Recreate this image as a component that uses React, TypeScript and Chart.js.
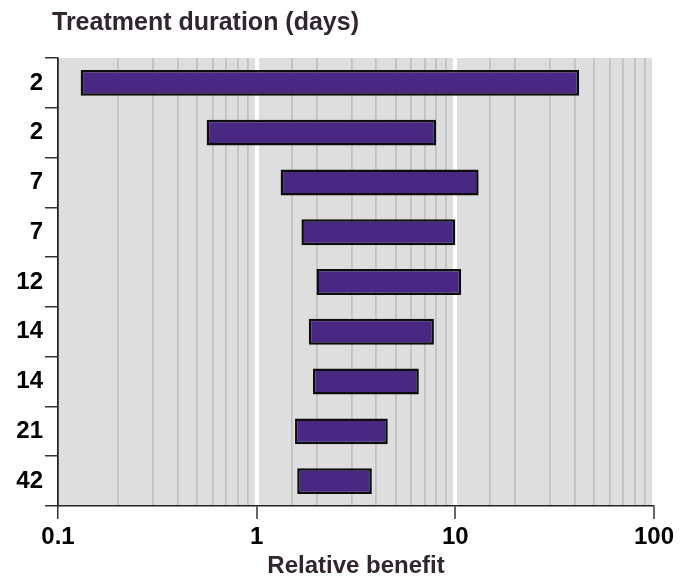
import React, { useEffect, useRef } from "react";
import { Chart, registerables } from "chart.js";

Chart.register(...registerables);

const categories = ["2", "2", "7", "7", "12", "14", "14", "21", "42"];
const lowValues = [0.13, 0.56, 1.32, 1.68, 2.0, 1.83, 1.92, 1.56, 1.6];
const highValues = [42, 8.0, 13.1, 10.0, 10.7, 7.8, 6.55, 4.57, 3.8];
const majorTicks = [0.1, 1, 10, 100];
const chartTitle = "Treatment duration (days)";
const xAxisTitle = "Relative benefit";

const FONT = '"Liberation Sans", Arial, Helvetica, sans-serif';
const TITLE_COLOR = "#32252f";

const isMajor = (v: number) => majorTicks.some((m) => Math.abs(m - v) < 1e-9 * Math.max(1, m));

const bgPlugin = {
  id: "plotBackground",
  beforeDraw(chart: any) {
    const { ctx, chartArea } = chart;
    ctx.save();
    ctx.fillStyle = "#dedede";
    ctx.fillRect(chartArea.left, chartArea.top, chartArea.right - chartArea.left, chartArea.bottom - chartArea.top);
    ctx.restore();
  },
};

const titlePlugin = {
  id: "topLeftTitle",
  afterDraw(chart: any) {
    const { ctx } = chart;
    ctx.save();
    ctx.font = `bold 25px ${FONT}`;
    ctx.fillStyle = TITLE_COLOR;
    ctx.textAlign = "left";
    ctx.textBaseline = "alphabetic";
    ctx.fillText(chartTitle, 52, 30);
    ctx.restore();
  },
};

export default function App() {
  const canvasRef = useRef<HTMLCanvasElement | null>(null);

  useEffect(() => {
    if (!canvasRef.current) return;
    const chart = new Chart(canvasRef.current, {
      type: "bar",
      data: {
        labels: categories,
        datasets: [
          {
            data: categories.map((_, i) => [lowValues[i], highValues[i]]) as any,
            backgroundColor: "#482882",
            borderColor: "#0d0d0d",
            borderWidth: 2.5,
            borderSkipped: false,
            barPercentage: 0.52,
            categoryPercentage: 1,
          },
        ],
      },
      options: {
        indexAxis: "y",
        animation: false,
        responsive: false,
        layout: { padding: { top: 58, right: 37, left: 0, bottom: 0 } },
        plugins: {
          legend: { display: false },
          tooltip: { enabled: false },
          title: { display: false },
        },
        scales: {
          x: {
            type: "logarithmic",
            min: 0.1,
            max: 100,
            position: "bottom",
            afterFit: (scale: any) => {
              scale.height = 72;
            },
            grid: {
              color: (ctx: any) => {
                const v = ctx.tick ? ctx.tick.value : 0;
                if (Math.abs(v - 0.1) < 1e-9) return "#222222";
                return isMajor(v) ? "#ffffff" : "#c2c2c2";
              },
              lineWidth: (ctx: any) => {
                const v = ctx.tick ? ctx.tick.value : 0;
                if (Math.abs(v - 0.1) < 1e-9) return 1.5;
                return isMajor(v) ? 4 : 1.8;
              },
              tickColor: (ctx: any) => {
                const v = ctx.tick ? ctx.tick.value : 0;
                return isMajor(v) ? "#333333" : "rgba(0,0,0,0)";
              },
              tickWidth: 1.5,
              tickLength: 13,
              drawTicks: true,
            },
            border: { display: true, color: "#222222", width: 1.5 },
            ticks: {
              autoSkip: false,
              maxRotation: 0,
              padding: 4,
              color: "#000000",
              font: { family: FONT, size: 24, weight: "bold" },
              callback: (value: any) => {
                const v = Number(value);
                return isMajor(v) ? String(majorTicks.find((m) => Math.abs(m - v) < 1e-9 * Math.max(1, m))) : "";
              },
            },
            title: {
              display: true,
              text: xAxisTitle,
              color: TITLE_COLOR,
              font: { family: FONT, size: 24, weight: "bold", lineHeight: 1 },
              padding: { top: 0, bottom: 0 },
            },
          },
          y: {
            type: "category",
            offset: true,
            afterFit: (scale: any) => {
              scale.width = 58;
            },
            grid: {
              offset: true,
              drawOnChartArea: false,
              drawTicks: true,
              tickLength: 13,
              color: "#333333",
              lineWidth: 1.5,
            },
            border: { display: true, color: "#222222", width: 1.5 },
            ticks: {
              padding: 2,
              color: "#000000",
              font: { family: FONT, size: 24, weight: "bold" },
            },
          },
        },
      },
      plugins: [bgPlugin, titlePlugin],
    } as any);
    return () => chart.destroy();
  }, []);

  return (
    <div style={{ position: "absolute", left: 0, top: 0, width: 691, height: 578 }}>
      <canvas ref={canvasRef} width={691} height={578} />
    </div>
  );
}
